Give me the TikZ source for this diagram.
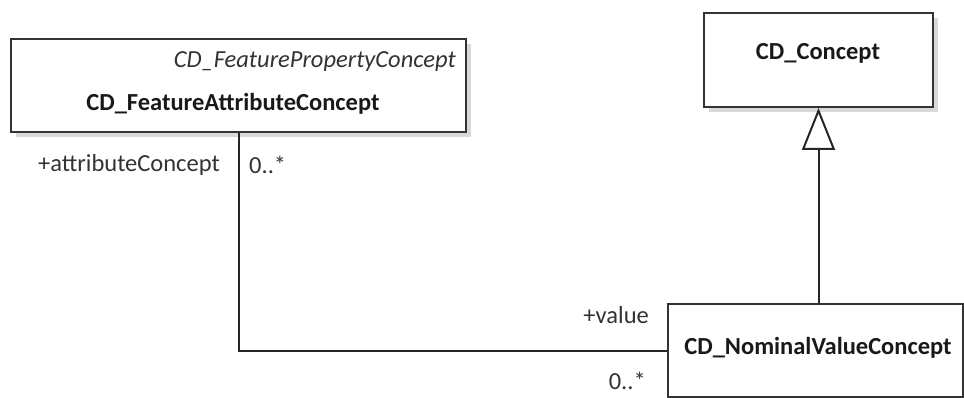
\documentclass[tikz,border=0pt]{standalone}
\usepackage{fontspec}
\setmainfont{Carlito}
\usetikzlibrary{arrows.meta,shadows}
\begin{document}
\begin{tikzpicture}[x=1pt,y=-1pt,
  umlclass/.style={draw=black!80, line width=2pt, fill=white, inner sep=0pt,
    drop shadow={shadow xshift=5pt, shadow yshift=-5pt, fill=black!15, opacity=1}},
  conn/.style={draw=black!85, line width=2pt},
  gen/.style={conn, -{Triangle[open, width=33pt, length=42pt, line width=2pt]}},
  lbl/.style={font=\fontsize{24.5}{26}\selectfont, text=black!80, inner sep=0pt},
  title/.style={font=\fontsize{24.5}{26}\selectfont\bfseries, text=black!90, inner sep=0pt}]
  \useasboundingbox (0,0) rectangle (964,398);
  % classes
  \node[umlclass, minimum width=455pt, minimum height=93pt, anchor=north west] (fac) at (10,38) {};
  \node[lbl, font=\fontsize{24.5}{26}\selectfont\itshape, anchor=east] (facstereo) at (456,62) {CD\_FeaturePropertyConcept};
  \node[title] (facname) at (233,104) {CD\_FeatureAttributeConcept};
  \node[umlclass, minimum width=229pt, minimum height=94pt, anchor=north west] (concept) at (703,12) {};
  \node[title] (conceptname) at (818,53) {CD\_Concept};
  \node[umlclass, minimum width=295pt, minimum height=93pt, anchor=north west, drop shadow={opacity=0}] (nvc) at (667,303) {};
  \node[title] (nvcname) at (818,348) {CD\_NominalValueConcept};
  % generalization
  \draw[gen] (concept.south |- nvc.north) -- (concept.south);
  % association
  \draw[conn] (fac.south) |- (nvc.west);
  % association end labels
  \node[lbl, anchor=east] (roleA) at (220,165) {+attributeConcept};
  \node[lbl, anchor=west] (multA) at (249,165) {0..*};
  \node[lbl, anchor=east] (roleB) at (649,315) {+value};
  \node[lbl, anchor=east] (multB) at (646,381) {0..*};
\end{tikzpicture}
\end{document}
